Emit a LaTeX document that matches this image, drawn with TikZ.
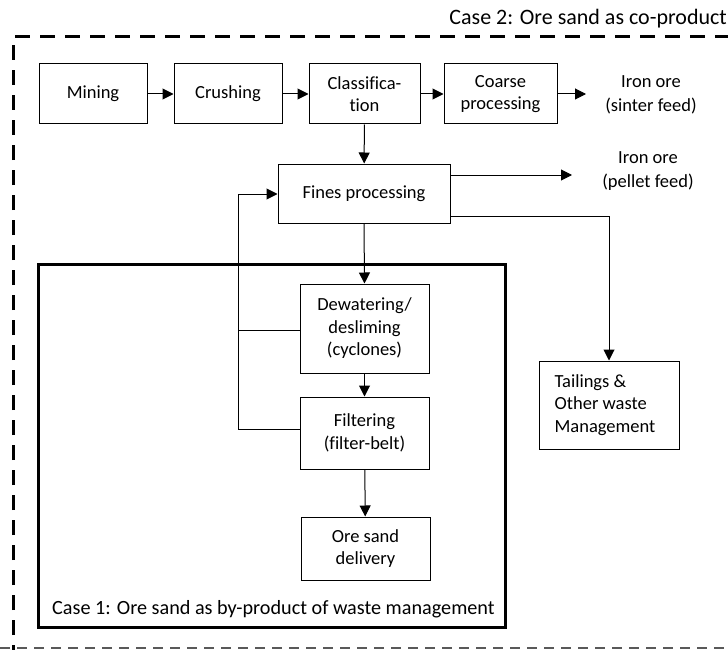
\documentclass[tikz,border=0pt]{standalone}
\usepackage{fontspec}
\setmainfont[Ligatures=NoCommon]{Carlito}
\usetikzlibrary{arrows.meta}
\tikzset{
  proc/.style={draw, line width=1pt, align=center, inner sep=2pt,
    font=\fontsize{18.5}{22.5}\selectfont},
  txt/.style={align=center, inner sep=0pt, font=\fontsize{18.5}{23.5}\selectfont},
  conn/.style={line width=1pt, -{Triangle[length=11pt,width=11pt]}},
  line/.style={line width=1pt}
}
\begin{document}
\begin{tikzpicture}[x=1pt,y=-1pt]
\useasboundingbox (0,0) rectangle (728,650);
% outer dashed frame (Case 2)
\draw[line width=3pt, dash pattern=on 15pt off 10pt] (13,660) -- (13,37) -- (740,37);
\draw[line width=1.2pt, black!65, dash pattern=on 10pt off 7pt] (0,648) -- (740,648);
\node[txt, anchor=east, font=\fontsize{22}{26}\selectfont] (case2) at (727,19) {Case 2: Ore sand as co-product};
% inner solid frame (Case 1)
\draw[line width=3pt] (38,264) rectangle (505,627);
\node[txt, anchor=west, font=\fontsize{20.2}{24}\selectfont] (case1) at (52,609) {Case 1: Ore sand as by-product of waste management};

% top row
\node[proc, minimum width=108pt, minimum height=60pt] (mining) at (93,94) {Mining};
\node[proc, minimum width=108pt, minimum height=60pt] (crushing) at (228,94) {Crushing};
\node[proc, minimum width=111pt, minimum height=60pt] (class) at (364.5,94) {Classifica-\\tion};
\node[proc, minimum width=113pt, minimum height=60pt] (coarse) at (500.5,94) {Coarse\\processing};
\node[txt] (sinter) at (651,95) {Iron ore\\(sinter feed)};
\coordinate (sinterin) at (586,94);

% fines
\node[proc, minimum width=172pt, minimum height=59pt] (fines) at (364,193.5) {Fines processing};
\node[txt] (pellet) at (648,171) {Iron ore\\(pellet feed)};
\coordinate (pelletin) at (572,175);
\coordinate (finesA) at (450,175);
\coordinate (finesB) at (450,216);
\coordinate (tailcorner) at (609,216);

% case 1 chain
\node[proc, minimum width=129pt, minimum height=89pt] (dewater) at (364.5,328.5) {Dewatering/\\desliming\\(cyclones)};
\node[proc, minimum width=129pt, minimum height=72pt] (filter) at (364.5,433) {Filtering\\(filter-belt)};
\node[proc, minimum width=129pt, minimum height=63pt] (oresand) at (365.5,548.5) {Ore sand\\delivery};

% tailings
\node[proc, minimum width=140pt, minimum height=88pt, align=left] (tail) at (609,405)
  {\hspace*{8pt}\begin{tabular}{@{}l@{}}Tailings \&\\Other waste\\Management\end{tabular}\hspace*{16pt}};

% return loop coordinates
\coordinate (loopD) at (238,330);
\coordinate (loopF) at (238,429);
\coordinate (loopT) at (238,194);

% connectors
\draw[conn] (mining) -- (crushing);
\draw[conn] (crushing) -- (class);
\draw[conn] (class) -- (coarse);
\draw[conn] (coarse) -- (sinterin);
\draw[conn] (class) -- (fines);
\draw[conn] (finesA) -- (pelletin);
\draw[conn] (finesB) -- (tailcorner) -- (tail.north);
\draw[conn] (fines.south) -- (dewater.north);
\draw[conn] (dewater) -- (filter);
\draw[conn] (filter) -- (oresand);
\draw[line] (dewater.west |- loopD) -- (loopD);
\draw[conn] (filter.west |- loopF) -- (loopF) -- (loopT) -- (fines.west |- loopT);
\end{tikzpicture}
\end{document}
